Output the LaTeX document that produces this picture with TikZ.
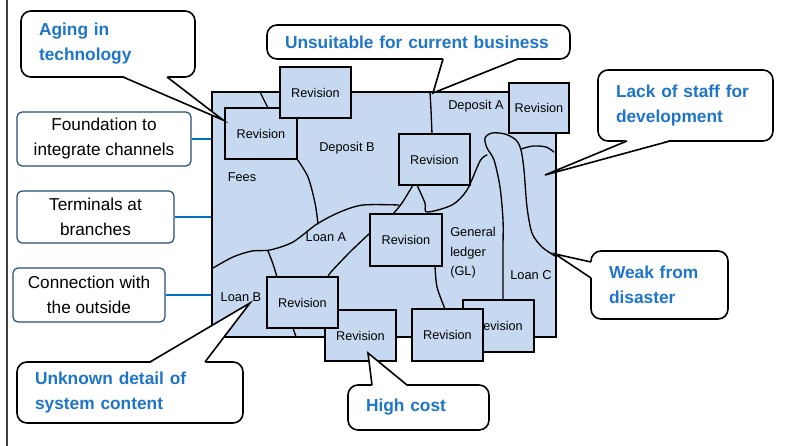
\documentclass[tikz,border=0pt]{standalone}
\usepackage{fontspec}
\setmainfont{Liberation Sans}
\usepackage{xcolor}
\usepackage{tikz}
\definecolor{SysBlue}{HTML}{C6D9F0}
\definecolor{IssueBlue}{HTML}{1F75C9}
\definecolor{EdgeNavy}{HTML}{264D73}
\definecolor{LinkBlue}{HTML}{0070C0}
\newdimen\pxu \pxu=0.75pt
\tikzset{
  revbox/.style={draw=black,fill=SysBlue,line width=1pt,inner sep=0pt,
    minimum width=71\pxu,minimum height=51\pxu,font=\fontsize{9.5}{11}\selectfont},
  arealabel/.style={inner sep=0pt,font=\fontsize{9.6}{14.6}\selectfont},
  chanbox/.style={draw=EdgeNavy,fill=white,line width=0.9pt,rounded corners=5\pxu,
    align=center,inner sep=0pt,font=\fontsize{12.9}{18.75}\selectfont},
  issue/.style={draw=black,fill=white,line width=1.2pt,rounded corners=10\pxu,
    align=left,inner xsep=18\pxu,inner ysep=0pt,text=IssueBlue,
    font=\fontsize{13}{18.75}\selectfont\bfseries},
  issuetail/.style={draw=black,line width=1.2pt,line join=miter},
  boundary/.style={line width=1pt,line join=round,line cap=round},
  link/.style={draw=LinkBlue,line width=1.1pt}
}
\begin{document}
\begin{tikzpicture}[x=0.75pt,y=-0.75pt]
\path[use as bounding box] (0,0) rectangle (789,446);
\draw[black!75,line width=0.8pt] (7,0) -- (7,446);
% the system as a whole
\node[draw=black,fill=SysBlue,line width=1pt,inner sep=0pt,
  minimum width=344\pxu,minimum height=245\pxu] (sys) at (384,214.5) {};
% borders between the areas
\draw[boundary] plot[smooth] coordinates {(260,92) (264,100) (268,108)};
\draw[boundary] plot[smooth] coordinates {(297,159) (308,177) (315,203) (318,224)};
\draw[boundary] plot[smooth] coordinates {(213,268) (233,257) (252,251) (270,250) (293,242) (317,224) (340,212) (363,205) (399,205)};
\draw[boundary] plot[smooth] coordinates {(413,185) (402,203) (393,214)};
\draw[boundary] plot[smooth] coordinates {(417,185) (425,203) (427,212) (452,205) (467,190) (480,161) (487,155)};
\draw[boundary] plot[smooth] coordinates {(370,233) (350,252) (331,272) (328,277)};
\draw[boundary] plot[smooth] coordinates {(268,251) (273,264) (277,277)};
\draw[boundary] plot[smooth] coordinates {(293,328) (296,337)};
\draw[boundary] plot[smooth] coordinates {(435,266) (437,287) (445,309)};
\draw[boundary] plot[smooth] coordinates {(503,300) (503,250) (503,220) (500,187) (494,160) (487,148) (485,138) (492,133) (505,134) (516,140) (521,150) (524,170) (527,207) (532,233) (542,247) (555,256)};
\draw[boundary] plot[smooth] coordinates {(521,149) (533,146) (546,147) (554,152)};
\draw[boundary] plot[smooth] coordinates {(430,92) (431,110) (432,134)};
% revision patches
\node[revbox,minimum width=72\pxu] (revfees) at (261,133.5) {Revision};
\node[revbox] (revtop) at (315.5,92.5) {Revision};
\node[revbox,minimum width=60\pxu,minimum height=50\pxu] (revdepa) at (539,108) {Revision};
\node[revbox] (revmid) at (434.5,159.5) {Revision};
\node[revbox,minimum width=72\pxu,minimum height=52\pxu] (revgl) at (406,240) {Revision};
\node[revbox,line width=0.8pt] (revlow) at (360.5,335.5) {Revision};
\node[revbox] (revloanb) at (302.5,302.5) {Revision};
\node[revbox,line width=0.8pt,minimum height=52\pxu] (revloanc) at (498.5,326) {Revision};
\node[revbox,minimum height=52\pxu] (revbot) at (447.5,335) {Revision};
% area names
\node[arealabel] (depb) at (347,148) {Deposit B};
\node[arealabel] (depa) at (476,106) {Deposit A};
\node[arealabel] (fees) at (242,177) {Fees};
\node[arealabel] (loana) at (326,237) {Loan A};
\node[arealabel,anchor=west,align=left] (gl) at (450,253) {General\\ledger\\(GL)};
\node[arealabel] (loanc) at (531,275) {Loan C};
\node[arealabel] (loanb) at (241,297) {Loan B};
% channels
\node[chanbox,minimum width=174\pxu,minimum height=54\pxu] (found) at (104,139) {Foundation to\\integrate channels};
\node[chanbox,minimum width=157\pxu,minimum height=52\pxu] (term) at (95.5,217) {Terminals at\\branches};
\node[chanbox,minimum width=152\pxu,minimum height=54\pxu] (conn) at (89,295) {Connection with\\the outside};
\draw[link] (found.east) -- (found.east -| sys.west);
\draw[link] (term.east) -- (term.east -| sys.west);
\draw[link] (conn.east) -- (conn.east -| sys.west);
% issues
\node[issue,text width=138\pxu,minimum height=66\pxu] (aging) at (108,44) {Aging in\\technology};
\node[issue,text width=267\pxu,minimum height=34\pxu] (unsuit) at (418.5,42) {Unsuitable for current business};
\node[issue,text width=139\pxu,minimum height=71\pxu] (staff) at (685.5,105.5) {Lack of staff for\\development};
\node[issue,text width=101\pxu,minimum height=68\pxu] (weak) at (659.5,285) {Weak from\\disaster};
\node[issue,text width=190\pxu,minimum height=61\pxu] (unknown) at (130,392.5) {Unknown detail of\\system content};
\node[issue,text width=105\pxu,minimum height=45\pxu] (cost) at (418.5,407.5) {High cost};
\coordinate (agingtip) at (223,120);
\coordinate (unsuittip) at (433,93);
\coordinate (stafftip) at (545,175);
\coordinate (weaktip) at (555,254);
\coordinate (unknowntip) at (250,303);
\coordinate (costtip) at (368,353);
\fill[white] (123,76) -- (agingtip) -- (167,76) -- cycle;
\draw[issuetail] (123,77) -- (agingtip) -- (167,77);
\fill[white] (443,58) -- (unsuittip) -- (518,58) -- cycle;
\draw[issuetail] (443,59) -- (unsuittip) -- (518,59);
\fill[white] (627,140) -- (stafftip) -- (670,140) -- cycle;
\draw[issuetail] (627,141) -- (stafftip) -- (670,141);
\fill[white] (592,262) -- (weaktip) -- (592,278) -- cycle;
\draw[issuetail] (591,262) -- (weaktip) -- (591,278);
\fill[white] (150,363) -- (unknowntip) -- (205,363) -- cycle;
\draw[issuetail] (150,362) -- (unknowntip) -- (205,362);
\fill[white] (372,386) -- (costtip) -- (407,386) -- cycle;
\draw[issuetail] (372,385) -- (costtip) -- (407,385);
\end{tikzpicture}
\end{document}
